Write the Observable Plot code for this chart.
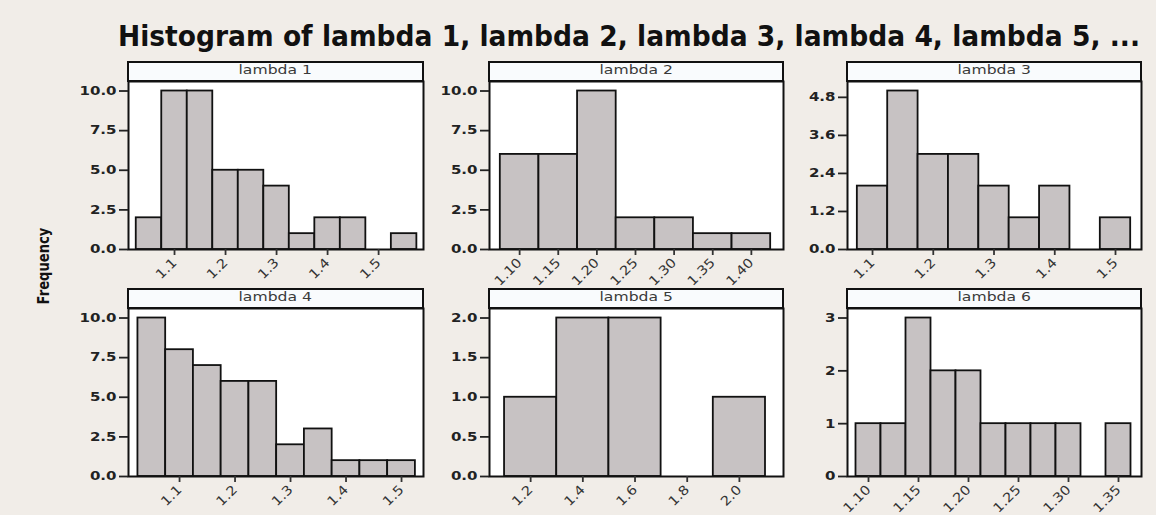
<!DOCTYPE html>
<html>
<head>
<meta charset="utf-8">
<script src="https://cdn.jsdelivr.net/npm/d3@7"></script>
<script src="https://cdn.jsdelivr.net/npm/@observablehq/plot@0.6"></script>
<style>
  html, body { margin: 0; padding: 0; background: #f1ede8; }
  #chart { position: relative; width: 1156px; height: 515px; background: #f1ede8; overflow: hidden; font-family: "DejaVu Sans", sans-serif; }
  #chart svg { position: absolute; overflow: visible; }
  .strip { position: absolute; box-sizing: border-box; border: 2px solid #111; background: #f9fbfd; text-align: center; font-size: 12px; line-height: 15px; color: #3a3a3a; }
  .strip span { display: inline-block; transform: scaleX(1.3); }
  #title { position: absolute; white-space: nowrap; font-family: "DejaVu Sans", sans-serif; font-weight: bold; font-size: 29px; line-height: 32px; color: #111; transform-origin: 0 50%; }
  #ylabel { position: absolute; white-space: nowrap; font-family: "DejaVu Sans", sans-serif; font-weight: bold; font-size: 16px; line-height: 18px; color: #111; }
</style>
</head>
<body>
<div id="chart"></div>
<script>
// Histogram bins: bar midpoints and frequencies for each variable
const panelNames = ["lambda 1", "lambda 2", "lambda 3", "lambda 4", "lambda 5", "lambda 6"];

const lambda1Mid = [1.05, 1.10, 1.15, 1.20, 1.25, 1.30, 1.35, 1.40, 1.45, 1.50, 1.55];
const lambda1Count = [2, 10, 10, 5, 5, 4, 1, 2, 2, 0, 1];

const lambda2Mid = [1.10, 1.15, 1.20, 1.25, 1.30, 1.35, 1.40];
const lambda2Count = [6, 6, 10, 2, 2, 1, 1];

const lambda3Mid = [1.10, 1.15, 1.20, 1.25, 1.30, 1.35, 1.40, 1.45, 1.50];
const lambda3Count = [2, 5, 3, 3, 2, 1, 2, 0, 1];

const lambda4Mid = [1.05, 1.10, 1.15, 1.20, 1.25, 1.30, 1.35, 1.40, 1.45, 1.50];
const lambda4Count = [10, 8, 7, 6, 6, 2, 3, 1, 1, 1];

const lambda5Mid = [1.2, 1.4, 1.6, 1.8, 2.0];
const lambda5Count = [1, 2, 2, 0, 1];

const lambda6Mid = [1.100, 1.125, 1.150, 1.175, 1.200, 1.225, 1.250, 1.275, 1.300, 1.325, 1.350];
const lambda6Count = [1, 1, 3, 2, 2, 1, 1, 1, 1, 0, 1];

const binWidths = [0.05, 0.05, 0.05, 0.05, 0.2, 0.025];

// Axis ticks
const xTicks1 = [1.1, 1.2, 1.3, 1.4, 1.5];
const xTicks2 = [1.10, 1.15, 1.20, 1.25, 1.30, 1.35, 1.40];
const xTicks3 = [1.1, 1.2, 1.3, 1.4, 1.5];
const xTicks4 = [1.1, 1.2, 1.3, 1.4, 1.5];
const xTicks5 = [1.2, 1.4, 1.6, 1.8, 2.0];
const xTicks6 = [1.10, 1.15, 1.20, 1.25, 1.30, 1.35];

const yTicks1 = [0, 2.5, 5, 7.5, 10];
const yTicks2 = [0, 2.5, 5, 7.5, 10];
const yTicks3 = [0, 1.2, 2.4, 3.6, 4.8];
const yTicks4 = [0, 2.5, 5, 7.5, 10];
const yTicks5 = [0, 0.5, 1.0, 1.5, 2.0];
const yTicks6 = [0, 1, 2, 3];

const xFormats = [".1f", ".2f", ".1f", ".1f", ".1f", ".2f"];
const yFormats = [".1f", ".1f", ".1f", ".1f", ".1f", "d"];

// Visible x range of each panel
const xDomains = [
  [1.0098, 1.588], [1.061, 1.4416], [1.0588, 1.5428],
  [1.008, 1.5396], [1.0423, 2.169], [1.079, 1.373]
];

const mids = [lambda1Mid, lambda2Mid, lambda3Mid, lambda4Mid, lambda5Mid, lambda6Mid];
const counts = [lambda1Count, lambda2Count, lambda3Count, lambda4Count, lambda5Count, lambda6Count];
const xTicks = [xTicks1, xTicks2, xTicks3, xTicks4, xTicks5, xTicks6];
const yTicks = [yTicks1, yTicks2, yTicks3, yTicks4, yTicks5, yTicks6];

// Panel grid geometry (pixels)
const cols = [{L: 128, R: 423}, {L: 489, R: 783}, {L: 847, R: 1141}];
const rows = [{stripTop: 62, top: 81, bottom: 249}, {stripTop: 289, top: 308, bottom: 476}];

const chart = document.getElementById("chart");

const title = document.createElement("div");
title.id = "title";
title.textContent = "Histogram of lambda 1, lambda 2, lambda 3, lambda 4, lambda 5, ...";
title.style.left = "118px";
title.style.top = "20px";
chart.appendChild(title);
const tw = title.getBoundingClientRect().width;
title.style.transform = `scaleX(${1022 / tw})`;

const ylab = document.createElement("div");
ylab.id = "ylabel";
ylab.textContent = "Frequency";
ylab.style.left = "44px";
ylab.style.top = "266px";
chart.appendChild(ylab);
ylab.style.transform = "translate(-50%, -50%) rotate(-90deg) scaleX(0.82)";

const mL = 60, mR = 2, mT = 0, mB = 50;

for (let i = 0; i < 6; ++i) {
  const col = cols[i % 3], row = rows[Math.floor(i / 3)];
  const w = binWidths[i];
  const bins = mids[i]
    .map((m, k) => ({x1: m - w / 2, x2: m + w / 2, n: counts[i][k]}))
    .filter(d => d.n > 0);
  const yMax = d3.max(counts[i]) * 1.06;

  const svg = Plot.plot({
    width: col.R - col.L + mL + mR,
    height: row.bottom - row.top + mT + mB,
    marginLeft: mL, marginRight: mR, marginTop: mT, marginBottom: mB,
    style: {background: "transparent", fontFamily: "DejaVu Sans, sans-serif", overflow: "visible"},
    x: {domain: xDomains[i]},
    y: {domain: [0, yMax]},
    marks: [
      Plot.frame({fill: "white", stroke: "none"}),
      Plot.rect(bins, {x1: "x1", x2: "x2", y1: 0, y2: "n", fill: "#c7c2c3", stroke: "#111", strokeWidth: 1.8, inset: 0}),
      Plot.frame({stroke: "#111", strokeWidth: 2}),
      Plot.axisY({ticks: yTicks[i], tickFormat: d3.format(yFormats[i]), tickSize: 9, tickPadding: 3,
                  fontSize: 12, fontWeight: "bold", color: "#222", strokeWidth: 1.8, label: null}),
      Plot.axisX({ticks: xTicks[i], tickFormat: d3.format(xFormats[i]), tickSize: 6, tickPadding: 5, tickRotate: -45,
                  fontSize: 13, color: "#333", strokeWidth: 1.8, label: null})
    ]
  });
  svg.style.left = (col.L - mL) + "px";
  svg.style.top = (row.top - mT) + "px";
  chart.appendChild(svg);

  // widen tick label glyphs slightly
  svg.querySelectorAll('g[aria-label="y-axis tick label"] text').forEach(t => {
    const len = t.getComputedTextLength();
    t.setAttribute("textLength", len * 1.25);
    t.setAttribute("lengthAdjust", "spacingAndGlyphs");
  });
  svg.querySelectorAll('g[aria-label="x-axis tick label"] text').forEach(t => {
    const len = t.getComputedTextLength();
    t.setAttribute("textLength", len * 1.12);
    t.setAttribute("lengthAdjust", "spacingAndGlyphs");
  });

  const strip = document.createElement("div");
  strip.className = "strip";
  strip.style.left = (col.L - 1) + "px";
  strip.style.top = (row.stripTop - 1) + "px";
  strip.style.width = (col.R - col.L + 2) + "px";
  strip.style.height = (row.top - row.stripTop + 2) + "px";
  const span = document.createElement("span");
  span.textContent = panelNames[i];
  strip.appendChild(span);
  chart.appendChild(strip);
}
</script>
</body>
</html>
